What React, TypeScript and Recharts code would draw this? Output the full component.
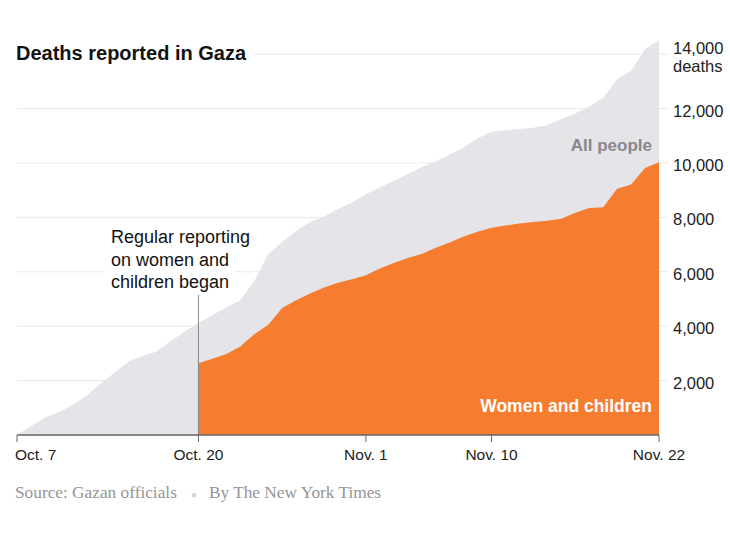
import React from 'react';
import { AreaChart, Area, XAxis, YAxis, CartesianGrid, ReferenceLine } from 'recharts';

// Days since Oct. 7 (index = day)
const allPeople = [
  0, 320, 640, 840, 1100, 1450, 1900, 2300, 2700, 2900, 3070, 3450, 3800,
  4120, 4400, 4700, 4950, 5650, 6650, 7100, 7500, 7830, 8030, 8300, 8550,
  8850, 9100, 9350, 9600, 9850, 10060, 10300, 10570, 10900, 11150, 11200,
  11250, 11300, 11400, 11620, 11820, 12080, 12400, 13080, 13390, 14180, 14530,
];
const womenChildren: (number | null)[] = [
  null, null, null, null, null, null, null, null, null, null, null, null, null,
  2640, 2800, 2980, 3250, 3700, 4050, 4670, 4950, 5200, 5420, 5600, 5730,
  5870, 6120, 6320, 6510, 6650, 6880, 7080, 7300, 7470, 7620, 7700,
  7780, 7830, 7880, 7950, 8170, 8350, 8370, 9050, 9210, 9820, 10030,
];
const xTickDays = [0, 13, 25, 34, 46];
const xTickLabels = ['Oct. 7', 'Oct. 20', 'Nov. 1', 'Nov. 10', 'Nov. 22'];
const yTicks = [2000, 4000, 6000, 8000, 10000, 12000, 14000];
const yMax = 15000;
const annotationDay = 13;
const annotationTop = 5150;

const data = allPeople.map((v, i) => ({ day: i, all: v, wc: womenChildren[i] }));

const SANS = "'Liberation Sans', Arial, sans-serif";
const SERIF = "'Liberation Serif', 'Times New Roman', serif";

const XTick = (props: any) => {
  const { x, y, payload } = props;
  const idx = xTickDays.indexOf(payload.value);
  const first = idx === 0;
  return (
    <text x={first ? x - 2 : x} y={y} dy="0.71em" textAnchor={first ? 'start' : 'middle'}
      fontFamily={SANS} fontSize={15.5} fill="#222">
      {xTickLabels[idx]}
    </text>
  );
};

const YTick = (props: any) => {
  const { x, y, payload } = props;
  const label = payload.value.toLocaleString('en-US');
  if (payload.value === 14000) {
    return (
      <g>
        <text x={x} y={y} textAnchor="start" fontFamily={SANS} fontSize={16.5} fill="#222">{label}</text>
        <text x={x} y={y + 17.5} textAnchor="start" fontFamily={SANS} fontSize={16.5} fill="#222">deaths</text>
      </g>
    );
  }
  return (
    <text x={x} y={y + 8} textAnchor="start" fontFamily={SANS} fontSize={16.5} fill="#222">{label}</text>
  );
};

const gridGen = (args: any) => {
  const off = args && args.offset ? args.offset : { top: 27, height: 408 };
  return yTicks.map((t) => off.top + off.height * (1 - t / yMax));
};

export default function App() {
  return (
    <div style={{ position: 'absolute', left: 0, top: 0, width: 730, height: 552, background: '#fff' }}>
      <AreaChart width={730} height={552} data={data}
        margin={{ top: 27, right: 1, left: 17, bottom: 87 }}>
        <CartesianGrid vertical={false} stroke="#e9e9e9" strokeWidth={1}
          horizontalCoordinatesGenerator={gridGen} />
        <XAxis dataKey="day" type="number" domain={[0, 46]} ticks={xTickDays}
          height={30} tickSize={7} tickMargin={7} interval={0}
          axisLine={{ stroke: '#666', strokeWidth: 1.5 }} tickLine={{ stroke: '#666' }}
          tick={<XTick />} />
        <YAxis orientation="right" type="number" domain={[0, yMax]} ticks={yTicks}
          width={70} axisLine={false} tickSize={9} tickMargin={5}
          tickLine={{ stroke: '#e9e9e9' }} tick={<YTick />} interval={0} />
        <Area type="linear" dataKey="all" stroke="none" fill="#e5e4e8" fillOpacity={1}
          isAnimationActive={false} dot={false} activeDot={false} />
        <Area type="linear" dataKey="wc" stroke="none" fill="#f67d30" fillOpacity={1}
          isAnimationActive={false} dot={false} activeDot={false} />
        <ReferenceLine segment={[{ x: annotationDay, y: 0 }, { x: annotationDay, y: annotationTop }]}
          stroke="#8a8a8a" strokeWidth={1} />
      </AreaChart>
      <svg width={730} height={552} style={{ position: 'absolute', left: 0, top: 0, pointerEvents: 'none' }}>
        <rect x={10} y={38} width={244} height={28} fill="#fff" />
        <text x={16} y={60} fontFamily={SANS} fontWeight="bold" fontSize={20} fill="#121212">
          Deaths reported in Gaza
        </text>
        <rect x={105} y={225} width={152} height={23} fill="#fff" />
        <rect x={105} y={248} width={130} height={22} fill="#fff" />
        <rect x={105} y={268} width={130} height={25} fill="#fff" />
        <text fontFamily={SANS} fontSize={18} fill="#121212">
          <tspan x={111} y={243}>Regular reporting</tspan>
          <tspan x={111} y={265.5}>on women and</tspan>
          <tspan x={111} y={288}>children began</tspan>
        </text>
        <text x={652} y={151} textAnchor="end" fontFamily={SANS} fontWeight="bold" fontSize={17} fill="#88888c">
          All people
        </text>
        <text x={652} y={412} textAnchor="end" fontFamily={SANS} fontWeight="bold" fontSize={17.5} fill="#ffffff">
          Women and children
        </text>
        <text fontFamily={SERIF} fontSize={17.3} fill="#959595" y={498}>
          <tspan x={15}>Source: Gazan officials</tspan>
          <tspan x={191} fill="#d5d5d5" fontSize={10}>●</tspan>
          <tspan x={209}>By The New York Times</tspan>
        </text>
      </svg>
    </div>
  );
}
